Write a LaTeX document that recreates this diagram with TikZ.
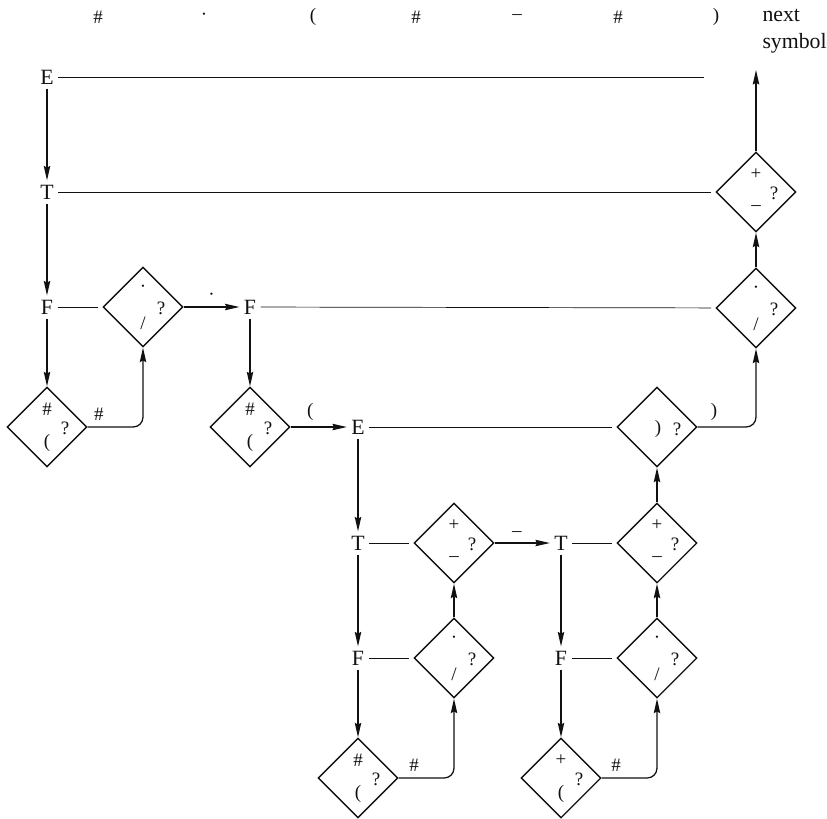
\documentclass[tikz,border=0pt]{standalone}
\usepackage{fontspec}
\setmainfont{Liberation Serif}
\usetikzlibrary{arrows.meta,shapes.geometric}
\definecolor{ink}{HTML}{111111}
\tikzset{
  nt/.style={font=\fontsize{15.5}{19}\selectfont,inner sep=3pt},
  sym/.style={font=\fontsize{13.5}{15}\selectfont,inner sep=0pt},
  qbox/.style={draw,line width=1pt,shape=diamond,aspect=1,minimum width=2cm,minimum height=2cm,inner sep=0pt},
  flow/.style={->,line width=0.9pt},
  rail/.style={line width=0.5pt,shorten >=3pt},
}

\begin{document}
\begin{tikzpicture}[x=0.025cm,y=-0.025cm,>={Stealth[length=3.6mm,width=1.6mm,inset=0.4mm]},color=ink]
\useasboundingbox (0,0) rectangle (827,818);
\foreach \n/\x/\s in {s1/98/\#,s2/204/\textperiodcentered,s3/313/(,s4/416/\#,s5/517/--,s6/618/\#,s7/716/)}
  \node[sym] (\n) at (\x,17) {\s};
\node[nt,align=left,anchor=west] (next) at (758,31) {next\\symbol};

\node[nt] (E1) at (47,77) {E};
\node[nt] (T1) at (47,192) {T};
\node[nt] (F1) at (47,307) {F};
\node[nt] (F2) at (250,307) {F};
\node[nt] (E2) at (358,427) {E};
\node[nt] (T2) at (358,543) {T};
\node[nt] (T3) at (561,543) {T};
\node[nt] (F3) at (358,658) {F};
\node[nt] (F4) at (561,658) {F};

\foreach \n/\x/\y/\t/\b in {qa/47/427/\#/(,qb/143/307/\textperiodcentered/{/},qc/250/427/\#/(,
    qd/454/543/+/--,qe/454/658/\textperiodcentered/{/},qf/358/778/\#/(,qg/657/543/+/--,
    qh/657/658/\textperiodcentered/{/},qi/561/778/+/(,qk/756/308/\textperiodcentered/{/},ql/756/192/+/--}{
  \node[qbox] (\n) at (\x,\y) {};
  \node[sym] (\n-t) at (\x,\y-18) {\t};
  \node[sym] (\n-b) at (\x,\y+16) {\b};
  \node[sym] (\n-q) at (\x+18,\y+1) {?};
}
\node[qbox] (qj) at (657,427) {};
\node[sym] (qj-t) at (658,429) {)};
\node[sym] (qj-q) at (677,429) {?};

\coordinate (eEnd) at (708,77);
\coordinate (out) at (756,70);
\draw[rail] (E1) -- (eEnd);
\draw[rail] (T1) -- (ql);
\draw[rail] (F1) -- (qb);
\draw[rail] (F2) -- (qk);
\draw[rail] (E2) -- (qj);
\draw[rail] (T2) -- (qd);
\draw[rail] (T3) -- (qg);
\draw[rail] (F3) -- (qe);
\draw[rail] (F4) -- (qh);

\draw[flow] (E1) -- (T1);
\draw[flow] (T1) -- (F1);
\draw[flow] (F1) -- (qa);
\draw[flow,rounded corners=7pt] (qa.east) -| node[sym,pos=0.1,above=4pt] (la) {\#} (qb.south);
\draw[flow] (qb) -- node[sym,above=4pt] (lb) {\textperiodcentered} (F2);
\draw[flow] (F2) -- (qc);
\draw[flow] (qc) -- node[sym,pos=0.35,above=4pt] (lc) {(} (E2);
\draw[flow] (E2) -- (T2);
\draw[flow] (T2) -- (F3);
\draw[flow] (F3) -- (qf);
\draw[flow,rounded corners=7pt] (qf.east) -| node[sym,pos=0.14,above=4pt] (ld) {\#} (qe.south);
\draw[flow] (qe) -- (qd);
\draw[flow] (qd) -- node[sym,pos=0.4,above=4pt] (le) {--} (T3);
\draw[flow] (T3) -- (F4);
\draw[flow] (F4) -- (qi);
\draw[flow,rounded corners=7pt] (qi.east) -| node[sym,pos=0.13,above=4pt] (lf) {\#} (qh.south);
\draw[flow] (qh) -- (qg);
\draw[flow] (qg) -- (qj);
\draw[flow,rounded corners=7pt] (qj.east) -| node[sym,pos=0.14,above=4pt] (lg) {)} (qk.south);
\draw[flow] (qk) -- (ql);
\draw[flow] (ql) -- (out);
\end{tikzpicture}
\end{document}
